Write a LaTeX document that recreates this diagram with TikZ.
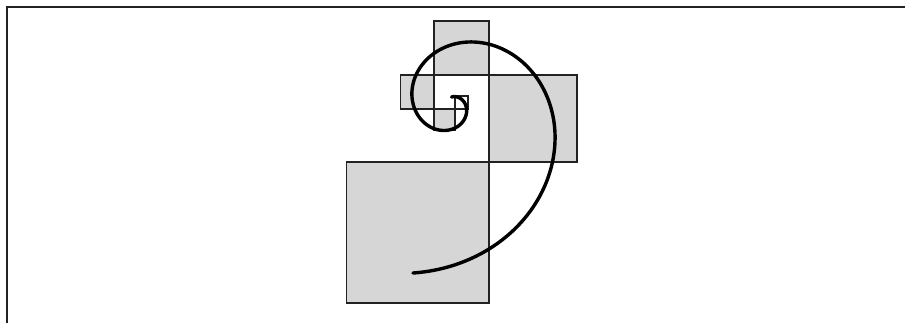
\documentclass[tikz,border=0pt]{standalone}
\usepackage{tikz}
\usetikzlibrary{calc}
\definecolor{mGray}{HTML}{D6D6D6}
\definecolor{mLine}{HTML}{222222}

\begin{document}
\begin{tikzpicture}[x=0.35mm, y=0.35mm,
      sq/.style={draw=mLine, line width=1.3pt, fill=mGray},
      sqw/.style={draw=mLine, line width=1.3pt, fill=white},
      spiral/.style={draw=black, line width=3.4pt, line cap=round}]
    \useasboundingbox (0,0) rectangle (905,323);

    % frame
    \draw[mLine, line width=1.6pt] (7,0) -- (7,316) -- (905,316);

    % squares, largest first
    \draw[sq] (346.5,20) rectangle (489,161);
    \draw[sq] (489,161) rectangle (577,248);
    \draw[sq] (434,248) rectangle (489,302);
    \draw[sq] (400.5,214) rectangle (434,248);
    \draw[sq] (434,193) rectangle (455,214);
    \draw[sqw] (455,214) rectangle (468,227);

    % golden spiral
    \draw[spiral] plot[domain=90:-463, samples=300, smooth]
      ({451.5 + 108.3*exp(-0.005347*(\x+377))*cos(\x)},
       {217 + 108.3*exp(-0.005347*(\x+377))*sin(\x)});
\end{tikzpicture}
\end{document}
